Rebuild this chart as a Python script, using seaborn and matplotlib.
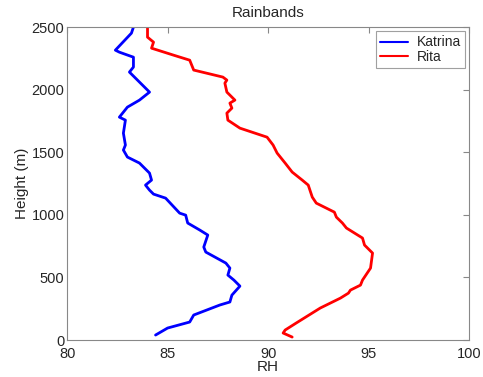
import matplotlib
matplotlib.use("Agg")
import matplotlib.pyplot as plt
import seaborn as sns
import pandas as pd

# Katrina profile (RH, height in m)
katrina_rh = [84.4, 85.0, 86.1, 86.3, 87.6, 88.1, 88.2, 88.6, 88.3, 88.0, 88.1, 87.9,
              86.9, 86.8, 87.0, 86.6, 86.0, 85.9, 85.6, 84.9, 84.3, 84.1, 83.9, 84.2,
              84.1, 83.6, 83.0, 82.8, 82.9, 82.8, 82.9, 82.6, 83.0, 83.6, 84.1, 83.6,
              83.1, 83.3, 83.3, 82.6, 82.4, 83.2, 83.3]
katrina_h = [40, 96, 144, 200, 280, 304, 359, 431, 479, 519, 575, 615,
             703, 743, 839, 879, 935, 998, 1014, 1134, 1166, 1198, 1238, 1278,
             1334, 1414, 1462, 1518, 1558, 1653, 1757, 1781, 1861, 1917, 1981, 2061,
             2141, 2181, 2260, 2300, 2316, 2452, 2500]

# Rita profile
rita_rh = [91.2, 90.75, 90.85, 91.4, 92.6, 93.6, 94.0, 94.1, 94.6, 94.7, 95.1, 95.2,
           94.8, 94.7, 93.9, 93.7, 93.4, 93.3, 92.4, 92.2, 92.0, 91.7, 91.2, 90.85,
           90.45, 90.25, 89.95, 88.6, 88.0, 87.95, 88.2, 88.1, 88.35, 87.95, 87.85,
           87.95, 87.75, 86.3, 86.1, 85.3, 84.2, 84.3, 84.0, 84.0]
rita_h = [24, 56, 80, 136, 256, 335, 375, 399, 439, 479, 575, 695,
          759, 815, 895, 935, 982, 1022, 1094, 1142, 1238, 1278, 1342, 1414,
          1494, 1558, 1621, 1693, 1757, 1813, 1853, 1893, 1917, 1981, 2053,
          2077, 2101, 2157, 2236, 2276, 2332, 2380, 2420, 2500]

df = pd.concat([
    pd.DataFrame({"RH": katrina_rh, "Height": katrina_h, "Storm": "Katrina"}),
    pd.DataFrame({"RH": rita_rh, "Height": rita_h, "Storm": "Rita"}),
], ignore_index=True)

sns.set_style("white")
plt.rcParams["font.family"] = ["Liberation Sans", "DejaVu Sans"]

fig = plt.figure(figsize=(4.83, 3.77), dpi=100)
ax = fig.add_axes([0.139, 0.098, 0.832, 0.830])
sns.lineplot(data=df, x="RH", y="Height", hue="Storm", sort=False, estimator=None,
             palette={"Katrina": "#0000ff", "Rita": "#ff0000"}, linewidth=2.0, ax=ax)

ax.set_xlim(80, 100)
ax.set_ylim(0, 2500)
ax.set_xticks([80, 85, 90, 95, 100])
ax.set_yticks(range(0, 2501, 500))
ax.tick_params(direction="in", top=True, right=True, length=4, labelsize=10.5,
               color="#888888")
ax.tick_params(axis="x", pad=5)
ax.tick_params(axis="y", pad=2)
for s in ax.spines.values():
    s.set_color("#888888")
    s.set_linewidth(0.8)
ax.set_xlabel("RH", fontsize=11, labelpad=-1)
ax.set_ylabel("Height (m)", fontsize=11, labelpad=2)
ax.set_title("Rainbands", fontsize=11, pad=7)
leg = ax.legend(loc="upper right", fontsize=10, frameon=True, fancybox=False,
                edgecolor="#888888", handlelength=2.0, handletextpad=0.6,
                labelspacing=0.05, borderpad=0.3, borderaxespad=0.3)
leg.get_frame().set_linewidth(0.8)
for h in leg.get_lines():
    h.set_linewidth(1.5)

fig.savefig("out.png", dpi=100)
